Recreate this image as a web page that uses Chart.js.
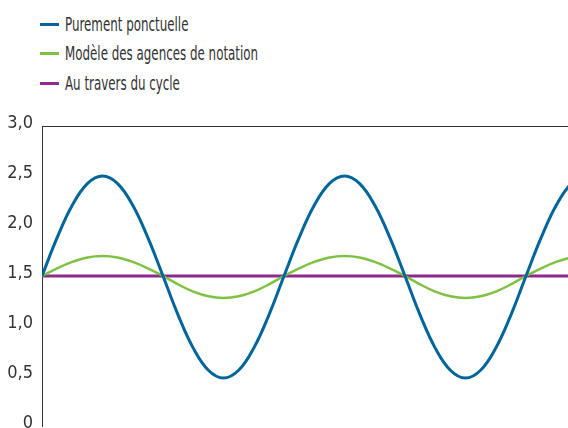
<!DOCTYPE html>
<html><head><meta charset="utf-8">
<script src="https://cdn.jsdelivr.net/npm/chart.js@4"></script>
<style>
html,body{margin:0;padding:0;width:568px;height:428px;overflow:hidden;background:#fff;}
#legend{position:absolute;left:40px;top:10px;font-family:"DejaVu Sans Condensed","DejaVu Sans",sans-serif;font-size:20px;color:#333;}
#legend .row{height:29.3px;white-space:nowrap;position:relative;}
#legend .sw{position:absolute;left:0;top:13px;width:19px;height:3px;}
#legend .tx{position:absolute;left:25px;top:0;line-height:29.3px;display:inline-block;transform:scaleX(0.66);transform-origin:0 50%;}
#wrap{position:absolute;left:0;top:100px;width:660px;height:360px;}
</style></head>
<body>
<div id="legend"></div>
<div id="wrap"><canvas id="c"></canvas></div>
<script>
const seriesNames = ["Purement ponctuelle", "Modèle des agences de notation", "Au travers du cycle"];
const seriesColors = ["#00659B", "#7DC242", "#8C2A8E"];
const xSteps = [0,1,2,3,4,5,6,7,8,9,10,11,12,13,14,15,16,17,18,19,20,21,22,23,24,25,26,27,28,29,30,31,32,33,34,35,36,37,38,39,40];
const ponctuelle = [1.500,1.883,2.207,2.424,2.500,2.424,2.207,1.883,1.500,1.109,0.779,0.558,0.480,0.558,0.779,1.109,
                    1.500,1.883,2.207,2.424,2.500,2.424,2.207,1.883,1.500,1.109,0.779,0.558,0.480,0.558,0.779,1.109,
                    1.500,1.883,2.207,2.424,2.500,2.424,2.207,1.883,1.500];
const agences = [1.500,1.577,1.641,1.685,1.700,1.685,1.641,1.577,1.500,1.416,1.344,1.297,1.280,1.297,1.344,1.416,
                 1.500,1.577,1.641,1.685,1.700,1.685,1.641,1.577,1.500,1.416,1.344,1.297,1.280,1.297,1.344,1.416,
                 1.500,1.577,1.641,1.685,1.700,1.685,1.641,1.577,1.500];
const cycle = [1.50,1.50,1.50,1.50,1.50,1.50,1.50,1.50,1.50,1.50,1.50,1.50,1.50,1.50,1.50,1.50,
               1.50,1.50,1.50,1.50,1.50,1.50,1.50,1.50,1.50,1.50,1.50,1.50,1.50,1.50,1.50,1.50,
               1.50,1.50,1.50,1.50,1.50,1.50,1.50,1.50,1.50];
const yTicks = [0, 0.5, 1.0, 1.5, 2.0, 2.5, 3.0];

// HTML legend
const lg = document.getElementById('legend');
seriesNames.forEach((n,i)=>{
  const r=document.createElement('div');r.className='row';
  const s=document.createElement('span');s.className='sw';s.style.background=seriesColors[i];
  const t=document.createElement('span');t.className='tx';t.textContent=n;
  r.appendChild(s);r.appendChild(t);lg.appendChild(r);
});

const mk = (arr)=>arr.map((v,i)=>({x:xSteps[i],y:v}));
const FONT = '"DejaVu Sans Condensed","DejaVu Sans",sans-serif';
new Chart(document.getElementById('c'), {
  type:'line',
  data:{datasets:[
    {label:seriesNames[2],data:mk(cycle),borderColor:seriesColors[2],borderWidth:3,pointRadius:0,tension:0,order:3},
    {label:seriesNames[1],data:mk(agences),borderColor:seriesColors[1],borderWidth:2.5,pointRadius:0,tension:0.4,order:2},
    {label:seriesNames[0],data:mk(ponctuelle),borderColor:seriesColors[0],borderWidth:3,pointRadius:0,tension:0.4,order:1}
  ]},
  options:{
    responsive:true,maintainAspectRatio:false,animation:false,
    layout:{padding:{top:26,bottom:34,right:13,left:0}},
    plugins:{legend:{display:false},tooltip:{enabled:false}},
    scales:{
      x:{type:'linear',min:0,max:40,display:false},
      y:{min:0,max:3,
        afterFit:(s)=>{s.width=42;},
        afterBuildTicks:(s)=>{s.ticks=yTicks.map(v=>({value:v}));},
        border:{display:true,color:'#333',width:1},
        grid:{drawTicks:false,color:(ctx)=>ctx.tick && ctx.tick.value===3?'#333':'rgba(0,0,0,0)',lineWidth:1},
        ticks:{padding:9,labelOffset:-3,color:'#333',font:{family:FONT,size:18},
          callback:(v)=>v===0?'0':v.toFixed(1).replace('.',',')}
      }
    }
  }
});
</script>
</body></html>
